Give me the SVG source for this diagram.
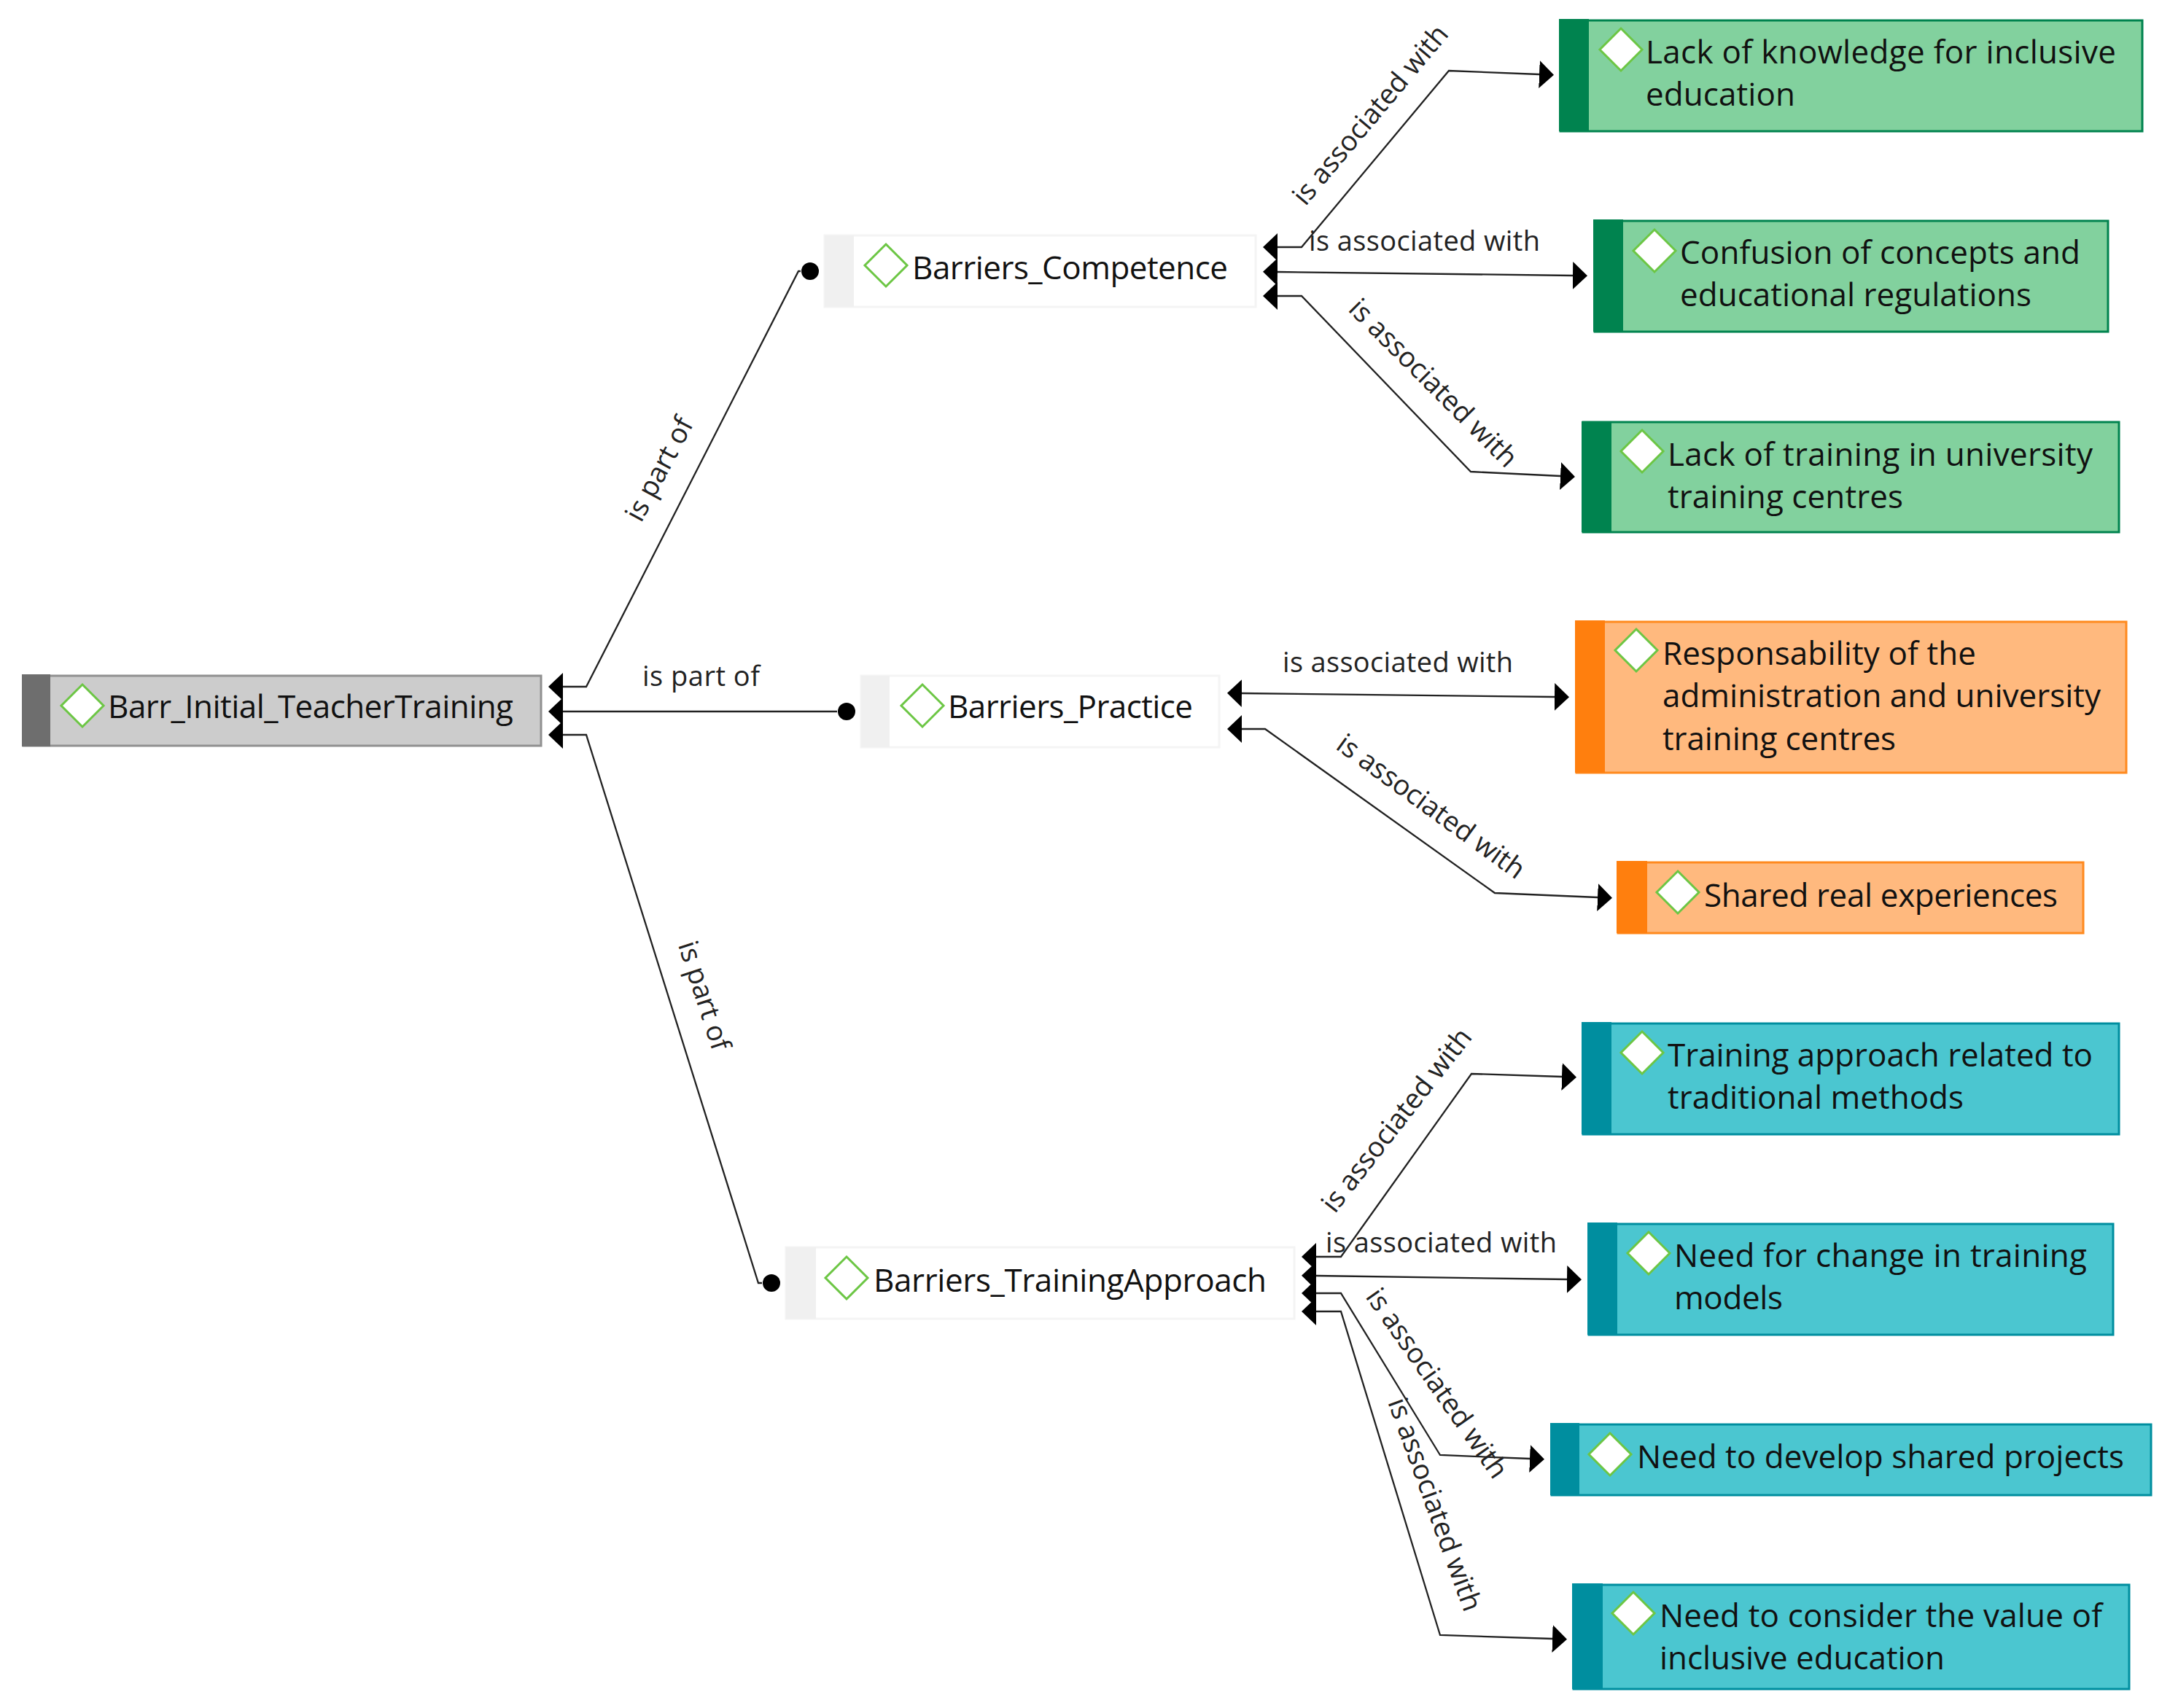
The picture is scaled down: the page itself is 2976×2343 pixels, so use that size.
<svg xmlns="http://www.w3.org/2000/svg" width="2976" height="2343" viewBox="0 0 2976 2343">
<defs>
<marker id="arr" markerUnits="userSpaceOnUse" markerWidth="24" markerHeight="44" refX="0" refY="22" orient="auto-start-reverse"><path d="M0 3L20 22L0 41Z" fill="#000"/></marker>
<marker id="dot" markerUnits="userSpaceOnUse" markerWidth="28" markerHeight="28" refX="0" refY="14" orient="0"><circle cx="13" cy="14" r="12" fill="#000"/></marker>
<path id="dia" d="M0 -29L29 0L0 29L-29 0Z" fill="#fff" stroke="#6CC644" stroke-width="3"/>
</defs>
<style>
text{font-family:"Open Sans","Noto Sans","Liberation Sans",sans-serif;fill:#111}
.n{font-size:44px}
.l{font-size:38px;fill:#222}
.c{fill:none;stroke:#222;stroke-width:2.3}
.a{marker-start:url(#arr);marker-end:url(#arr)}
.p{marker-start:url(#arr);marker-end:url(#dot)}
.gf{fill:#82D19E;stroke:#00834F;stroke-width:3}.gb{fill:#00834F}
.of{fill:#FFB97E;stroke:#FF8A1E;stroke-width:3}.ob{fill:#FF7F0E}
.tf{fill:#4BC6D0;stroke:#008E9F;stroke-width:3}.tb{fill:#008E9F}
.rf{fill:#CCCCCC;stroke:#909090;stroke-width:3}.rb{fill:#6E6E6E}
.wf{fill:#fff;stroke:#F4F4F4;stroke-width:3}.wb{fill:#F0F0F0}
</style>
<rect width="2976" height="2343" fill="#fff"/>
<g id="connectors">
<path class="c p" d="M772 942H804L1095 372H1098"/>
<path class="c p" d="M772 976H1148"/>
<path class="c p" d="M772 1008H804L1040 1760H1045"/>
<path class="c a" d="M1752 339H1785L1987 97L2111 102"/>
<path class="c a" d="M1752 373L2157 378"/>
<path class="c a" d="M1752 406H1785L2017 647L2140 653"/>
<path class="c a" d="M1703 951L2132 956"/>
<path class="c a" d="M1703 1000H1735L2050 1225L2191 1231"/>
<path class="c a" d="M1805 1724H1839L2018 1473L2142 1477"/>
<path class="c a" d="M1805 1750L2149 1755"/>
<path class="c a" d="M1805 1774H1839L1975 1996L2098 2001"/>
<path class="c a" d="M1805 1799H1839L1975 2243L2129 2248"/>
<g id="connector-labels">
<text class="l" transform="translate(905 644) rotate(-62)" text-anchor="middle" textLength="155" y="12">is part of</text>
<text class="l" x="881" y="941" textLength="161">is part of</text>
<text class="l" transform="translate(965 1366) rotate(72)" text-anchor="middle" textLength="155" y="12">is part of</text>
<text class="l" transform="translate(1880 158) rotate(-50)" text-anchor="middle" textLength="308" y="12">is associated with</text>
<text class="l" x="1795" y="344" textLength="317">is associated with</text>
<text class="l" transform="translate(1965 526) rotate(45)" text-anchor="middle" textLength="308" y="12">is associated with</text>
<text class="l" x="1759" y="922" textLength="316">is associated with</text>
<text class="l" transform="translate(1962 1107) rotate(36)" text-anchor="middle" textLength="308" y="12">is associated with</text>
<text class="l" transform="translate(1916 1537) rotate(-52)" text-anchor="middle" textLength="308" y="12">is associated with</text>
<text class="l" x="1818" y="1718" textLength="317">is associated with</text>
<text class="l" transform="translate(1970 1898) rotate(55)" text-anchor="middle" textLength="308" y="12">is associated with</text>
<text class="l" transform="translate(1967 2064) rotate(70)" text-anchor="middle" textLength="308" y="12">is associated with</text>
</g>
</g>
<g id="root"><rect class="rf" x="32" y="927" width="710" height="96"/><rect class="rb" x="30" y="925" width="39" height="99"/><use href="#dia" x="113" y="968"/><text class="n" x="148" y="985" textLength="556">Barr_Initial_TeacherTraining</text></g>
<g id="competence"><rect class="wf" x="1131" y="323" width="591" height="98"/><rect class="wb" x="1131" y="323" width="40" height="98"/><use href="#dia" x="1215" y="364"/><text class="n" x="1251" y="383" textLength="433">Barriers_Competence</text></g>
<g id="practice"><rect class="wf" x="1181" y="927" width="491" height="98"/><rect class="wb" x="1181" y="927" width="39" height="98"/><use href="#dia" x="1265" y="968"/><text class="n" x="1300" y="985" textLength="336">Barriers_Practice</text></g>
<g id="training"><rect class="wf" x="1078" y="1711" width="697" height="98"/><rect class="wb" x="1078" y="1711" width="41" height="98"/><use href="#dia" x="1161" y="1753"/><text class="n" x="1198" y="1772" textLength="539">Barriers_TrainingApproach</text></g>
<g id="g1"><rect class="gf" x="2140" y="28" width="798" height="152"/><rect class="gb" x="2138" y="26" width="41" height="154"/><use href="#dia" x="2223" y="68"/><text class="n" x="2257" y="87" textLength="645">Lack of knowledge for inclusive</text><text class="n" x="2257" y="145" textLength="205">education</text></g>
<g id="g2"><rect class="gf" x="2187" y="303" width="704" height="152"/><rect class="gb" x="2185" y="301" width="41" height="154"/><use href="#dia" x="2269" y="344"/><text class="n" x="2304" y="362" textLength="549">Confusion of concepts and</text><text class="n" x="2304" y="420" textLength="482">educational regulations</text></g>
<g id="g3"><rect class="gf" x="2171" y="579" width="735" height="151"/><rect class="gb" x="2169" y="578" width="41" height="152"/><use href="#dia" x="2252" y="619"/><text class="n" x="2287" y="639" textLength="583">Lack of training in university</text><text class="n" x="2287" y="697" textLength="323">training centres</text></g>
<g id="o1"><rect class="of" x="2162" y="853" width="754" height="207"/><rect class="ob" x="2160" y="851" width="41" height="209"/><use href="#dia" x="2244" y="892"/><text class="n" x="2280" y="912" textLength="430">Responsability of the</text><text class="n" x="2280" y="970" textLength="601">administration and university</text><text class="n" x="2280" y="1029" textLength="320">training centres</text></g>
<g id="o2"><rect class="of" x="2219" y="1183" width="638" height="97"/><rect class="ob" x="2217" y="1181" width="42" height="99"/><use href="#dia" x="2301" y="1224"/><text class="n" x="2337" y="1244" textLength="485">Shared real experiences</text></g>
<g id="t1"><rect class="tf" x="2171" y="1404" width="735" height="152"/><rect class="tb" x="2169" y="1402" width="41" height="154"/><use href="#dia" x="2252" y="1444"/><text class="n" x="2287" y="1463" textLength="583">Training approach related to</text><text class="n" x="2287" y="1521" textLength="406">traditional methods</text></g>
<g id="t2"><rect class="tf" x="2179" y="1679" width="719" height="152"/><rect class="tb" x="2177" y="1677" width="41" height="154"/><use href="#dia" x="2261" y="1719"/><text class="n" x="2296" y="1738" textLength="566">Need for change in training</text><text class="n" x="2296" y="1796" textLength="149">models</text></g>
<g id="t3"><rect class="tf" x="2128" y="1954" width="822" height="97"/><rect class="tb" x="2126" y="1952" width="40" height="99"/><use href="#dia" x="2208" y="1995"/><text class="n" x="2245" y="2014" textLength="668">Need to develop shared projects</text></g>
<g id="t4"><rect class="tf" x="2158" y="2174" width="762" height="143"/><rect class="tb" x="2156" y="2172" width="42" height="145"/><use href="#dia" x="2240" y="2213"/><text class="n" x="2276" y="2232" textLength="607">Need to consider the value of</text><text class="n" x="2276" y="2290" textLength="391">inclusive education</text></g>
</svg>
